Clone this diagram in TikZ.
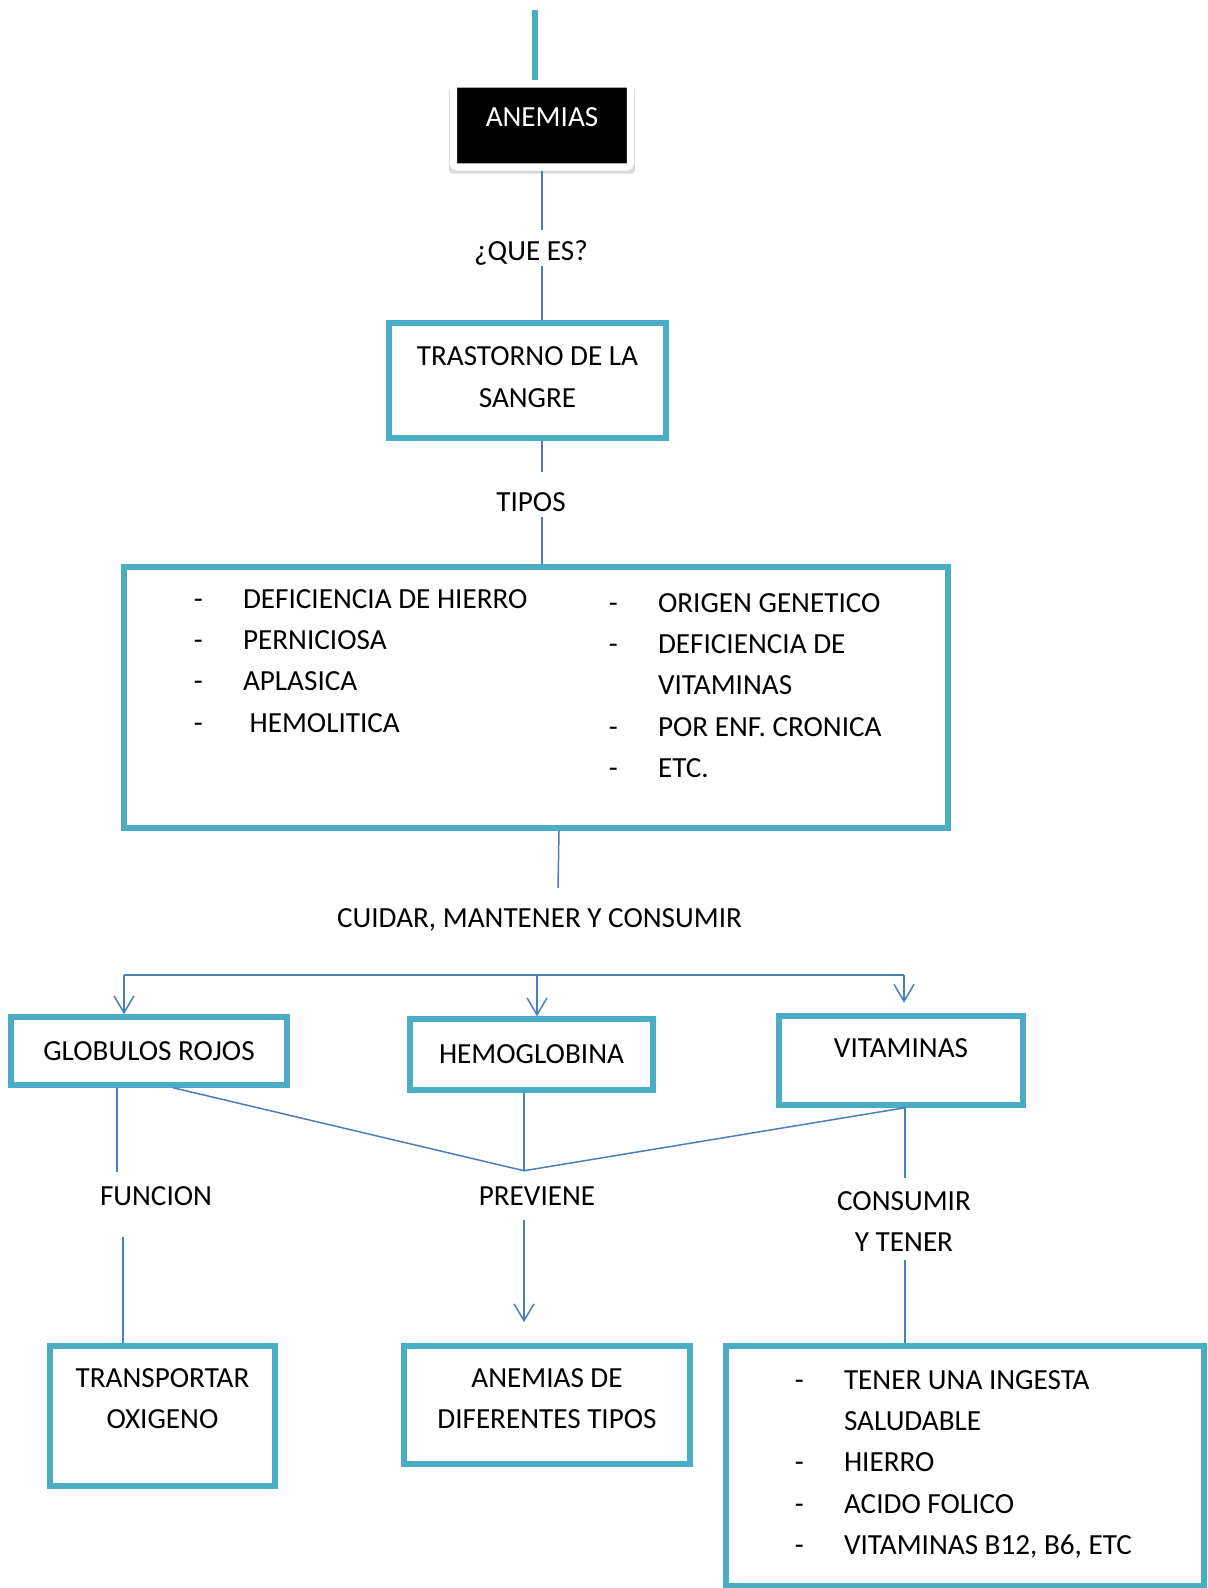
\documentclass[tikz,border=0pt]{standalone}
\usepackage{fontspec}
\setmainfont{Carlito}
\usepackage{tikz}
\usetikzlibrary{shapes}
\usetikzlibrary{arrows.meta}
\usetikzlibrary{calc}
\usetikzlibrary{shadows}
\definecolor{turquesa}{HTML}{4BACC6}
\definecolor{azul}{HTML}{4A7EBB}
\newcommand{\letra}{\fontsize{16.6pt}{23.5pt}\selectfont}
\newcommand{\guion}{\makebox[28pt][l]{-}}
\tikzstyle{caja}=[rectangle,draw=turquesa,line width=3.1pt,fill=white,align=center,inner sep=0pt,font=\letra]
\tikzstyle{titulo}=[rectangle,draw=white,fill=black,text=white,line width=4pt,
        rounded corners=2pt,inner sep=0pt,font=\letra,
        drop shadow={shadow xshift=0pt,shadow yshift=-2.5pt,shadow scale=1.05,opacity=0.3}]
\tikzstyle{etiqueta}=[inner sep=0pt,align=center,font=\letra]
\tikzstyle{lista}=[inner sep=0pt,align=left,anchor=north west,font=\letra]
\tikzstyle{linea}=[draw=azul,line width=0.85pt]
\tikzstyle{flecha}=[linea,-{Straight Barb[length=9.6pt,width=11.3pt]}]
\tikzstyle{tronco}=[draw=turquesa,line width=3.4pt]

\begin{document}
\begin{tikzpicture}[x=0.02cm,y=-0.02cm]
\useasboundingbox (0,0) rectangle (1207,1588);
\coordinate (inicio) at (535,10);
\node[titulo,minimum width=3.54cm,minimum height=1.66cm,text depth=9.6pt] (anemias) at (542,125.5) {ANEMIAS};
\node[etiqueta,text height=17.3pt,text depth=3.1pt] (quees) at (531,248) {¿QUE ES?};
\node[caja,minimum width=5.54cm,minimum height=2.3cm,text depth=4pt] (trastorno) at (527.5,380.5) {TRASTORNO DE LA\\SANGRE};
\node[etiqueta,text height=22.7pt,text depth=2.8pt] (tipos) at (531,494.5) {TIPOS};
\node[caja,minimum width=16.48cm,minimum height=5.22cm] (cajatipos) at (536,697.5) {};
\node[lista] (tiposizq) at (193.5,589) {\guion DEFICIENCIA DE HIERRO\\
\guion PERNICIOSA\\
\guion APLASICA\\
\guion\ HEMOLITICA};
\node[lista] (tiposder) at (608.5,593) {\guion ORIGEN GENETICO\\
\guion DEFICIENCIA DE\\
\hspace*{28pt}VITAMINAS\\
\guion POR ENF. CRONICA\\
\guion ETC.};
\node[etiqueta,text height=22.7pt,text depth=2.8pt] (cuidar) at (539.5,910.5) {CUIDAR, MANTENER Y CONSUMIR};
\coordinate (reparto) at (540,975);
\node[caja,minimum width=5.52cm,minimum height=1.36cm] (globulos) at (149,1051) {GLOBULOS ROJOS};
\node[caja,minimum width=4.86cm,minimum height=1.42cm] (hemoglobina) at (531.5,1054.5) {HEMOGLOBINA};
\node[caja,minimum width=4.88cm,minimum height=1.78cm,text depth=14.2pt] (vitaminas) at (901,1060.5) {VITAMINAS};
\node[etiqueta,text height=18.7pt,text depth=18.1pt] (funcion) at (156,1204.5) {FUNCION};
\node[etiqueta,text height=19.3pt,text depth=8.5pt] (previene) at (537,1195.5) {PREVIENE};
\node[etiqueta,text height=42pt,text depth=4.5pt] (consumir) at (904,1219) {CONSUMIR\\Y TENER};
\node[caja,minimum width=4.5cm,minimum height=2.8cm,text depth=19.8pt] (transportar) at (162.5,1416) {TRANSPORTAR\\OXIGENO};
\node[caja,minimum width=5.72cm,minimum height=2.36cm,text depth=7.4pt] (anemiasdif) at (547,1405) {ANEMIAS DE\\DIFERENTES TIPOS};
\node[caja,minimum width=9.56cm,minimum height=4.8cm] (consejos) at (965,1466) {};
\node[lista] (consejoslista) at (794.5,1370) {\guion TENER UNA INGESTA\\
\hspace*{28pt}SALUDABLE\\
\guion HIERRO\\
\guion ACIDO FOLICO\\
\guion VITAMINAS B12, B6, ETC};
%conectores
\draw[tronco] (inicio) -- (inicio |- anemias.north);
\draw[linea] (anemias.south) -- (anemias.south |- quees.north);
\draw[linea] (anemias.south |- quees.south) -- (anemias.south |- trastorno.north);
\draw[linea] (trastorno.south -| anemias) -- (tipos.north -| anemias);
\draw[linea] (tipos.south -| anemias) -- (cajatipos.north -| anemias);
\draw[linea] ($(cajatipos.south)+(23,0)$) -- ($(cuidar.north)+(18.5,0)$);
\draw[linea] ($(globulos.north |- reparto)+(-25,0)$) -- ($(vitaminas.north |- reparto)+(3,0)$);
\draw[flecha] ($(globulos.north |- reparto)+(-25,0)$) -- ($(globulos.north)+(-25,0)$);
\draw[flecha] ($(hemoglobina.north |- reparto)+(5.5,0)$) -- ($(hemoglobina.north)+(5.5,0)$);
\draw[flecha,shorten >=6pt] ($(vitaminas.north |- reparto)+(3,0)$) -- ($(vitaminas.north)+(3,0)$);
\draw[linea] ($(globulos.south)+(-32,0)$) -- ($(globulos.south |- funcion.north)+(-32,0)$);
\draw[linea] ($(transportar.north |- funcion.south)+(-39.5,0)$) -- ($(transportar.north)+(-39.5,0)$);
\draw[linea] ($(globulos.south)+(24,0)$) -- ($(previene.north)+(-13,0)$) -- ($(vitaminas.south)+(4,0)$);
\draw[linea] ($(hemoglobina.south)+(-7.5,0)$) -- ($(previene.north)+(-13,0)$);
\draw[flecha,shorten >=12pt] ($(previene.south)+(-13,0)$) -- ($(anemiasdif.north)+(-23,0)$);
\draw[linea] ($(vitaminas.south)+(4,0)$) -- ($(consumir.north)+(1,0)$);
\draw[linea] ($(consumir.south)+(1,0)$) -- ($(consejos.north)+(-60,0)$);
\end{tikzpicture}
\end{document}
